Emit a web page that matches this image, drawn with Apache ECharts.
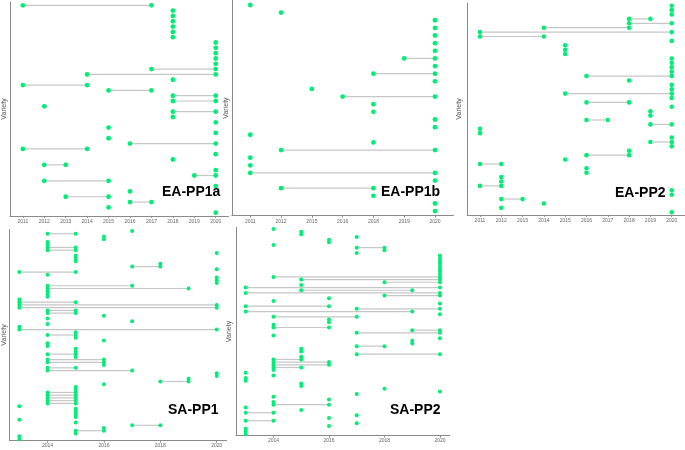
<!DOCTYPE html>
<html><head><meta charset="utf-8">
<script src="https://cdn.jsdelivr.net/npm/echarts@6/dist/echarts.min.js"></script>
<style>html,body{margin:0;padding:0;background:#fff}#c{width:685px;height:450px}</style>
</head><body><div id="c"></div>
<script>
// ---- tick labels ----
const eaYears = [2011, 2012, 2013, 2014, 2015, 2016, 2017, 2018, 2019, 2020];
const ppbYears = [2011, 2012, 2015, 2016, 2018, 2019, 2020];
const saTicks = [2014, 2016, 2018, 2020];

// ---- EA-PP1a (first / last year per variety, top to bottom) ----
const ppaStart = [2011,2018,2018,2018,2018,2018,2018,2020,2020,2020,2020,2020,2017,2014,2018,2011,2015,2018,2018,2012,2018,2018,2020,2015,2020,2015,2016,2011,2020,2018,2012,2020,2019,2012,2020,2016,2013,2016,2015,2020];
const ppaEnd   = [2017,2018,2018,2018,2018,2018,2018,2020,2020,2020,2020,2020,2020,2020,2018,2014,2017,2020,2020,2012,2020,2018,2020,2015,2020,2015,2020,2014,2020,2018,2013,2020,2020,2015,2020,2016,2015,2017,2015,2020];

// ---- EA-PP1b ----
const ppbStart = [2011,2012,2020,2020,2020,2020,2020,2019,2020,2018,2020,2015,2016,2018,2018,2020,2020,2011,2018,2012,2011,2011,2011,2020,2012,2018,2020,2020];
const ppbEnd   = [2011,2012,2020,2020,2020,2020,2020,2020,2020,2020,2020,2015,2020,2018,2018,2020,2020,2011,2018,2020,2011,2011,2020,2020,2018,2018,2020,2020];

// ---- EA-PP2 ----
const pp2Start = [2020,2020,2020,2018,2018,2014,2011,2011,2020,2015,2015,2015,2020,2020,2020,2020,2016,2018,2020,2020,2015,2020,2016,2020,2019,2019,2016,2019,2011,2011,2020,2019,2020,2018,2016,2015,2011,2016,2016,2012,2012,2011,2020,2020,2012,2014,2012,2020];
const pp2End   = [2020,2020,2020,2019,2020,2018,2020,2014,2020,2015,2015,2015,2020,2020,2020,2020,2020,2018,2020,2020,2020,2020,2018,2020,2019,2019,2017,2020,2011,2011,2020,2020,2020,2018,2018,2015,2012,2016,2016,2012,2012,2012,2020,2020,2013,2014,2012,2020];

// ---- SA-PP1 ----
const sa1Start = [2017,2014,2016,2016,2014,2014,2014,2014,2020,2015,2015,2015,2018,2017,2020,2013,2014,2020,2020,2020,2014,2014,2014,2014,2014,2013,2013,2013,2013,2014,2014,2016,2014,2017,2014,2013,2013,2015,2014,2015,2016,2014,2014,2015,2015,2014,2015,2014,2014,2016,2014,2014,2020,2020,2019,2018,2016,2015,2015,2014,2014,2014,2014,2014,2013,2015,2015,2015,2015,2013,2015,2017,2016,2015,2015,2013,2013];
const sa1End   = [2017,2015,2016,2016,2014,2014,2015,2015,2020,2015,2015,2015,2018,2018,2020,2015,2014,2020,2020,2020,2017,2019,2014,2014,2014,2013,2015,2020,2020,2015,2015,2016,2014,2017,2014,2013,2020,2015,2015,2015,2016,2014,2014,2015,2015,2015,2015,2016,2016,2016,2015,2017,2020,2020,2019,2019,2016,2015,2015,2015,2015,2015,2015,2015,2013,2015,2015,2015,2015,2013,2015,2018,2016,2016,2015,2013,2013];

// ---- SA-PP2 ----
const sa2Start = [2014,2015,2015,2017,2016,2016,2014,2017,2018,2017,2020,2020,2020,2020,2020,2020,2020,2020,2014,2015,2018,2015,2013,2015,2013,2018,2016,2014,2020,2013,2017,2013,2020,2014,2016,2016,2014,2014,2019,2017,2014,2020,2019,2019,2017,2015,2015,2017,2015,2014,2014,2014,2014,2014,2013,2014,2013,2013,2015,2015,2018,2020,2017,2014,2016,2014,2014,2013,2015,2013,2017,2016,2013,2017,2016,2013,2013,2013];
const sa2End   = [2014,2015,2015,2017,2016,2016,2014,2018,2018,2017,2020,2020,2020,2020,2020,2020,2020,2020,2020,2020,2020,2015,2020,2019,2020,2020,2016,2014,2020,2016,2020,2019,2020,2017,2016,2016,2014,2016,2020,2020,2014,2020,2019,2019,2018,2015,2015,2020,2015,2015,2016,2016,2015,2014,2013,2014,2013,2013,2015,2015,2018,2020,2017,2014,2016,2014,2016,2013,2015,2014,2017,2016,2014,2017,2016,2013,2013,2013];

const DOT = '#00EE76', SEG = '#c6c6c6', AX = '#8a8a8a';

const panels = [
  {title:'EA-PP1a', s:ppaStart, e:ppaEnd, ticks:eaYears, map:null, grid:{left:9.4, top:2.1, width:219.2, height:213.8}, xr:[2010.4,2020.6], tpos:{left:162, top:185}, gap:2, dot:4.8},
  {title:'EA-PP1b', s:ppbStart, e:ppbEnd, ticks:ppbYears, map:ppbYears, grid:{left:231.8, top:0.4, width:221.7, height:215.3}, xr:[-0.6,6.6], tpos:{left:381, top:185}, gap:2, dot:4.8},
  {title:'EA-PP2', s:pp2Start, e:pp2End, ticks:eaYears, map:null, grid:{left:467.2, top:3.1, width:217.3, height:211.8}, xr:[2010.4,2020.6], tpos:{left:615, top:186}, gap:5, dot:4.6},
  {title:'SA-PP1', s:sa1Start, e:sa1End, ticks:saTicks, map:null, grid:{left:9.4, top:229.4, width:217.2, height:211.2}, xr:[2012.65,2020.35], tpos:{left:168, top:403}, gap:1.5, dot:4},
  {title:'SA-PP2', s:sa2Start, e:sa2End, ticks:saTicks, map:null, grid:{left:236, top:227.4, width:213.7, height:208.2}, xr:[2012.65,2020.35], tpos:{left:390, top:403}, gap:3, dot:4}
];

const option = {animation:false, backgroundColor:'#fff', title:[], grid:[], xAxis:[], yAxis:[], series:[]};

panels.forEach((p, k) => {
  const X = v => p.map ? p.map.indexOf(v) : v;
  const n = p.s.length;
  option.title.push({text:p.title, left:p.tpos.left, top:p.tpos.top, padding:0,
    textStyle:{fontFamily:'Liberation Sans, Arial, sans-serif', fontSize:14, fontWeight:'bold', color:'#000'}});
  option.grid.push(Object.assign({containLabel:false}, p.grid));
  const tickVals = p.ticks.map(X);
  option.xAxis.push({type:'value', gridIndex:k, position:'bottom', min:p.xr[0], max:p.xr[1],
    axisLine:{show:true, onZero:false, lineStyle:{color:AX, width:1}},
    axisTick:{show:true, length:2, lineStyle:{color:AX}, customValues:tickVals},
    axisLabel:{show:true, fontSize:5, color:'#666', margin:3, customValues:tickVals,
      formatter: v => p.map ? String(p.map[Math.round(v)]) : String(Math.round(v)),
      showMinLabel:true, showMaxLabel:true},
    splitLine:{show:false}});
  option.yAxis.push({type:'value', gridIndex:k, position:'left', inverse:true, min:-0.6, max:n - 0.4,
    name:'Variety', nameLocation:'middle', nameRotate:90, nameGap:p.gap,
    nameTextStyle:{fontSize:7, color:'#555', fontFamily:'Liberation Sans, Arial, sans-serif'},
    axisLine:{show:true, onZero:false, lineStyle:{color:AX, width:1}},
    axisTick:{show:false}, axisLabel:{show:false}, splitLine:{show:false}});
  const segs = [], pts = [];
  for (let i = 0; i < n; i++) {
    const a = X(p.s[i]), b = X(p.e[i]);
    if (a !== b) { segs.push([a, b, i]); pts.push([b, i]); }
    pts.push([a, i]);
  }
  option.series.push({type:'custom', xAxisIndex:k, yAxisIndex:k, data:segs, z:1,
    encode:{x:[0,1], y:2},
    renderItem:(params, api) => {
      const p1 = api.coord([api.value(0), api.value(2)]);
      const p2 = api.coord([api.value(1), api.value(2)]);
      return {type:'line', shape:{x1:p1[0], y1:p1[1], x2:p2[0], y2:p2[1]},
        style:{stroke:SEG, lineWidth:1.2}};
    }});
  option.series.push({type:'scatter', xAxisIndex:k, yAxisIndex:k, data:pts, z:3,
    symbolSize:p.dot, itemStyle:{color:DOT, opacity:1}, silent:true});
});

const chart = echarts.init(document.getElementById('c'), null, {renderer:'canvas'});
chart.setOption(option);
</script></body></html>
